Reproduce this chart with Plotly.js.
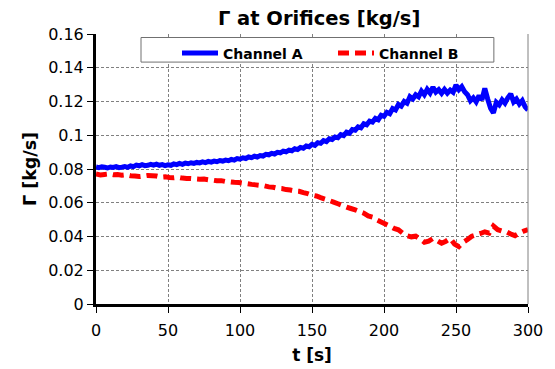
<!DOCTYPE html>
<html>
<head>
<meta charset="utf-8">
<script src="https://cdn.plot.ly/plotly-3.0.1.min.js"></script>
<style>html,body{margin:0;padding:0;background:#fff;}#chart{width:555px;height:369px;}</style>
</head>
<body>
<div id="chart"></div>
<script>
const tA = [0,2,4,6,8,10,12,14,16,18,20,22,24,26,28,30,32,34,36,38,40,42,44,46,48,50,52,54,56,58,60,62,64,66,68,70,72,74,76,78,80,82,84,86,88,90,92,94,96,98,100,102,104,106,108,110,112,114,116,118,120,122,124,126,128,130,132,134,136,138,140,142,144,146,148,150,152,154,156,158,160,162,164,166,168,170,172,174,176,178,180,182,184,186,188,190,192,194,196,198,200,202,204,206,208,210,212,214,216,218,220,222,224,226,228,230,232,234,236,238,240,242,244,246,248,250,252,254,256,258,260,262,264,266,268,270,272,274,276,278,280,282,284,286,288,290,292,294,296,298,300];
const channelA = [0.0812,0.0808,0.0813,0.0810,0.0806,0.0812,0.0809,0.0814,0.0808,0.0811,0.0815,0.0810,0.0818,0.0814,0.0823,0.0819,0.0826,0.0820,0.0822,0.0828,0.0823,0.0829,0.0822,0.0826,0.0820,0.0825,0.0822,0.0830,0.0826,0.0833,0.0828,0.0835,0.0831,0.0837,0.0833,0.0839,0.0836,0.0842,0.0838,0.0845,0.0841,0.0847,0.0843,0.0850,0.0847,0.0853,0.0849,0.0857,0.0853,0.0862,0.0858,0.0866,0.0862,0.0871,0.0867,0.0876,0.0871,0.0880,0.0877,0.0887,0.0884,0.0893,0.0889,0.0899,0.0896,0.0906,0.0902,0.0912,0.0908,0.0920,0.0915,0.0928,0.0923,0.0936,0.0932,0.0946,0.0940,0.0956,0.0952,0.0968,0.0962,0.0979,0.0975,0.0990,0.0985,0.1004,0.0998,0.1018,0.1012,0.1034,0.1030,0.1050,0.1044,0.1068,0.1062,0.1084,0.1078,0.1100,0.1092,0.1118,0.1112,0.1136,0.1128,0.1158,0.1150,0.1182,0.1172,0.1200,0.1190,0.1228,0.1215,0.1240,0.1228,0.1262,0.1240,0.1272,0.1250,0.1285,0.1255,0.1270,0.1248,0.1272,0.1250,0.1268,0.1255,0.1298,0.1270,0.1288,0.1258,0.1240,0.1205,0.1222,0.1198,0.1235,0.1210,0.1278,0.1215,0.1160,0.1132,0.1195,0.1180,0.1210,0.1190,0.1222,0.1245,0.1198,0.1215,0.1185,0.1205,0.1168,0.1150];
const tB = [0,3,6,9,12,15,18,21,24,27,30,33,36,39,42,45,48,51,54,57,60,63,66,69,72,75,78,81,84,87,90,93,96,99,102,105,108,111,114,117,120,123,126,129,132,135,138,141,144,147,150,153,156,159,162,165,168,171,174,177,180,183,186,189,192,195,198,201,204,207,210,213,216,219,222,225,228,231,234,237,240,243,246,249,252,255,258,261,264,267,270,273,276,279,282,285,288,291,294,297,300];
const channelB = [0.0770,0.0765,0.0768,0.0771,0.0766,0.0767,0.0763,0.0766,0.0760,0.0758,0.0755,0.0758,0.0762,0.0760,0.0758,0.0752,0.0754,0.0750,0.0748,0.0751,0.0746,0.0744,0.0743,0.0741,0.0739,0.0740,0.0736,0.0734,0.0730,0.0731,0.0726,0.0724,0.0721,0.0720,0.0716,0.0713,0.0709,0.0706,0.0703,0.0700,0.0694,0.0692,0.0686,0.0684,0.0678,0.0675,0.0670,0.0668,0.0660,0.0654,0.0645,0.0640,0.0630,0.0622,0.0613,0.0604,0.0594,0.0584,0.0574,0.0566,0.0558,0.0548,0.0538,0.0522,0.0515,0.0498,0.0486,0.0474,0.0462,0.0448,0.0440,0.0420,0.0405,0.0398,0.0402,0.0385,0.0366,0.0372,0.0388,0.0375,0.0360,0.0372,0.0388,0.0355,0.0340,0.0366,0.0382,0.0402,0.0410,0.0418,0.0428,0.0420,0.0462,0.0440,0.0432,0.0428,0.0415,0.0405,0.0420,0.0432,0.0440];
const seriesNames = ['Channel A', 'Channel B'];
const xTicks = [0,50,100,150,200,250,300];
const yTicks = [0,0.02,0.04,0.06,0.08,0.1,0.12,0.14,0.16];
const yTickLabels = ['0','0.02','0.04','0.06','0.08','0.1','0.12','0.14','0.16'];

const font = 'DejaVu Sans, Verdana, sans-serif';
const traces = [
  {x: tA, y: channelA, name: seriesNames[0], type: 'scatter', mode: 'lines',
   line: {color: '#0000ff', width: 5, simplify: false}},
  {x: tB, y: channelB, name: seriesNames[1], type: 'scatter', mode: 'lines',
   line: {color: '#ff0000', width: 5, dash: '11px,6px', simplify: false}}
];
const layout = {
  width: 555, height: 369,
  margin: {l: 96, r: 27, t: 34, b: 65},
  paper_bgcolor: '#fff', plot_bgcolor: '#fff',
  font: {family: font, color: '#000', size: 15},
  title: {text: 'Γ at Orifices [kg/s]', font: {family: font, size: 19.5, weight: 'bold'},
          x: 0.575, xanchor: 'center', y: 0.951, yanchor: 'middle'},
  xaxis: {range: [0, 300], tickvals: xTicks, ticks: 'outside', ticklen: 6, tickcolor: '#000',
          ticklabelstandoff: 4,
          showgrid: true, gridcolor: '#808080', griddash: '3px,2px', gridwidth: 1,
          showline: true, linecolor: '#000', linewidth: 2.5, zeroline: false,
          tickfont: {size: 16},
          title: {text: 't [s]', font: {size: 17, weight: 'bold'}, standoff: 11}},
  yaxis: {range: [0, 0.16], tickvals: yTicks, ticktext: yTickLabels, ticks: 'outside', ticklen: 6, tickcolor: '#000',
          showgrid: true, gridcolor: '#808080', griddash: '3px,2px', gridwidth: 1,
          showline: true, linecolor: '#000', linewidth: 3, zeroline: false,
          tickfont: {size: 16},
          title: {text: 'Γ [kg/s]', font: {size: 17.5, weight: 'bold'}, standoff: 8}},
  legend: {orientation: 'h', x: 0.1875, xanchor: 'left', y: 0.987, yanchor: 'top',
           bgcolor: 'rgba(0,0,0,0)', borderwidth: 0,
           font: {family: font, size: 14, weight: 'bold'},
           itemwidth: 36, entrywidth: 105, traceorder: 'normal'},
  shapes: [
    {type: 'line', xref: 'paper', yref: 'paper', x0: 1, x1: 1, y0: 0, y1: 1,
     line: {color: '#808080', width: 1}},
    {type: 'rect', xref: 'paper', yref: 'paper', x0: 0.1042, x1: 0.921, y0: 0.896, y1: 0.987,
     fillcolor: '#fff', line: {color: '#707070', width: 1}, layer: 'above'}
  ],
  showlegend: true
};
Plotly.newPlot('chart', traces, layout, {displayModeBar: false, staticPlot: true});
</script>
</body>
</html>
